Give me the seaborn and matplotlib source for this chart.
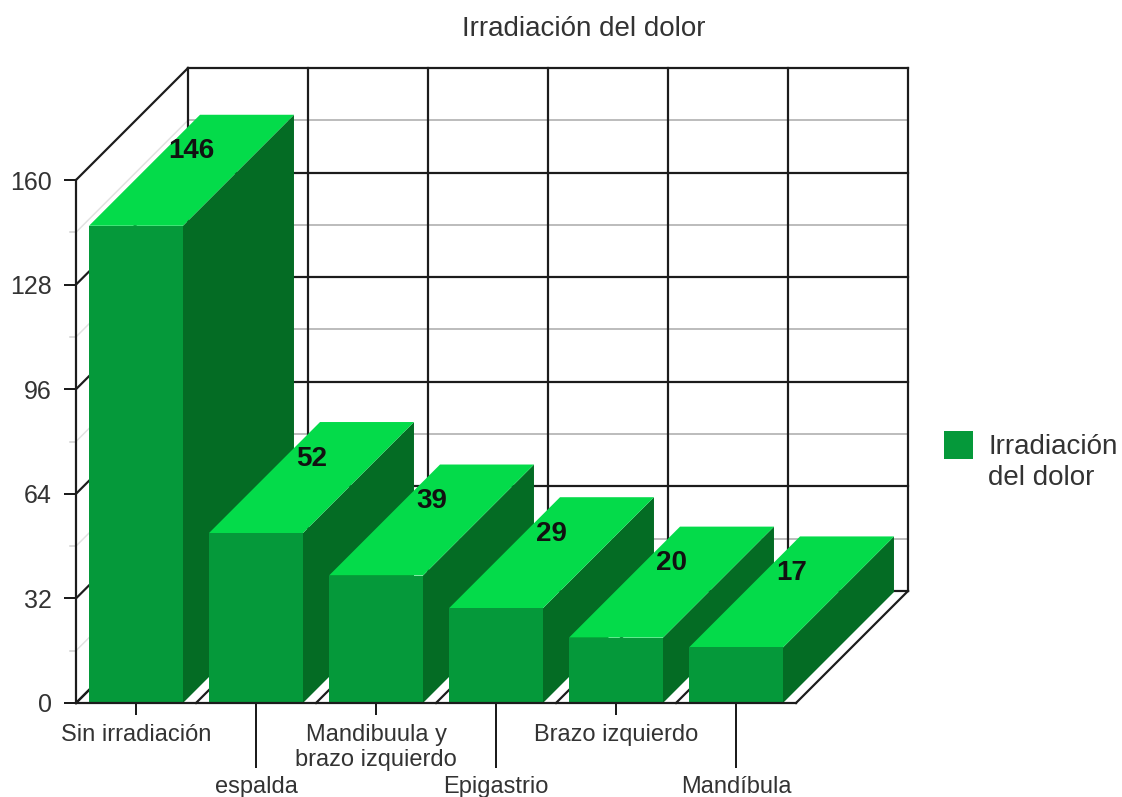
import matplotlib
matplotlib.use("Agg")
import matplotlib.pyplot as plt
from matplotlib.patches import Polygon, Patch
import pandas as pd
import seaborn as sns

categories = ["Sin irradiación", "espalda", "Mandibuula y\nbrazo izquierdo",
              "Epigastrio", "Brazo izquierdo", "Mandíbula"]
values = [146, 52, 39, 29, 20, 17]
y_ticks = [0, 32, 64, 96, 128, 160]
y_minor = [16, 48, 80, 112, 144]
series_name = "Irradiación\ndel dolor"
title = "Irradiación del dolor"

FRONT, TOP, SIDE = "#05993A", "#04DB4A", "#046C24"
INK, TEXT = "#1c1c1c", "#333333"
W, H = 1122, 797
PX = 72 / 100  # points per pixel

sns.set_theme(style="white")
plt.rcParams["font.family"] = ["Liberation Sans", "DejaVu Sans"]

fig = plt.figure(figsize=(W / 100, H / 100), dpi=100)
ax = fig.add_axes([76 / W, (H - 703) / H, 720 / W, 523 / H])

df = pd.DataFrame({"cat": categories, "val": values})
sns.barplot(data=df, x="cat", y="val", color=FRONT, saturation=1, width=0.783, ax=ax)
ax.set_xlim(-0.5, len(categories) - 0.5)
ax.set_ylim(0, y_ticks[-1])
ax.set_xlabel("")
ax.set_ylabel("")

# depth of the pseudo-3D box, in data units
px_x = (ax.get_xlim()[1] - ax.get_xlim()[0]) / 720
px_y = y_ticks[-1] / 523
DX, DY = 112 * px_x, 112 * px_y
bx, by = 111 * px_x, 111 * px_y
x0, x1 = ax.get_xlim()


def line(xs, ys, color=INK, lw=1.5, z=1):
    ax.plot(xs, ys, color=color, lw=lw * PX, clip_on=False, zorder=z,
            solid_capstyle="projecting")


# back wall and left wall
for v in y_minor:
    line([x0 + DX, x1 + DX], [v + DY, v + DY], "#bdbdbd", 2, 0.8)
    line([x0, x0 + DX], [v, v + DY], "#e2e2e2", 1.5, 0.8)
    line([x0 - 6 * px_x, x0], [v, v], "#d0d0d0", 1.5, 0.8)
for v in y_ticks:
    line([x0 + DX, x1 + DX], [v + DY, v + DY], lw=2.2)
    line([x0, x0 + DX], [v, v + DY], lw=2.2)
for i in range(len(categories) + 1):
    xb = x0 + i
    line([xb + DX, xb + DX], [DY, y_ticks[-1] + DY], lw=2.2)
    line([xb, xb + DX], [0, DY], lw=2.2)

# bars: the front faces come from seaborn, top and side faces are derived from them
for i, p in enumerate(ax.patches):
    l, r, h = p.get_x(), p.get_x() + p.get_width(), p.get_height()
    p.set_zorder(3 + i + 0.5)
    p.set_clip_on(False)
    p.set_edgecolor("none")
    ax.add_patch(Polygon([(r, 0), (r + bx, by), (r + bx, h + by), (r, h)], closed=True,
                         facecolor=SIDE, edgecolor="none", zorder=3 + i, clip_on=False))
    ax.add_patch(Polygon([(l, h), (r, h), (r + bx, h + by), (l + bx, h + by)], closed=True,
                         facecolor=TOP, edgecolor="none", zorder=3 + i, clip_on=False))
    ax.annotate(str(values[i]), ((l + r) / 2 + bx / 2, h + by / 2), xytext=(0, 19 * PX),
                textcoords="offset points", ha="center", va="center", fontsize=20,
                fontweight="bold", color="#111111", zorder=30, annotation_clip=False)

# axes
for s in ("top", "right"):
    ax.spines[s].set_visible(False)
for s in ("left", "bottom"):
    ax.spines[s].set_color(INK)
    ax.spines[s].set_linewidth(2.2 * PX)
    ax.spines[s].set_zorder(25)

ax.set_yticks(y_ticks)
ax.tick_params(axis="y", left=True, length=12 * PX, width=2 * PX, color=INK,
               labelsize=18, labelcolor=TEXT, pad=12 * PX)
ax.set_xticks(range(len(categories)))
ax.set_xticklabels(categories, fontsize=17, color=TEXT, linespacing=1.2)
ax.tick_params(axis="x", bottom=True, length=12 * PX, width=2 * PX, color=INK)
for i, t in enumerate(ax.xaxis.get_major_ticks()):
    if i % 2:
        t.set_pad(57 * PX + 4 * PX)
        t.tick1line.set_markersize(65 * PX)
    else:
        t.set_pad(9 * PX)

fig.text(584 / W, 1 - 29 / H, title, ha="center", va="center", fontsize=20, color=TEXT)

leg = ax.legend(handles=[Patch(facecolor=FRONT, edgecolor="none")], labels=[series_name],
                loc="upper left", bbox_to_anchor=(944 / W, 1 - 434 / H),
                bbox_transform=fig.transFigure, frameon=False, fontsize=20,
                handlelength=1.05, handleheight=1.2, handletextpad=0.55,
                borderpad=0, borderaxespad=0, labelcolor=TEXT)
for t in leg.get_texts():
    t.set_linespacing(1.24)
handle = leg.legend_handles[0]
handle.set_y(handle.get_y() + 13)

fig.savefig("out.png", dpi=100, facecolor="white")
